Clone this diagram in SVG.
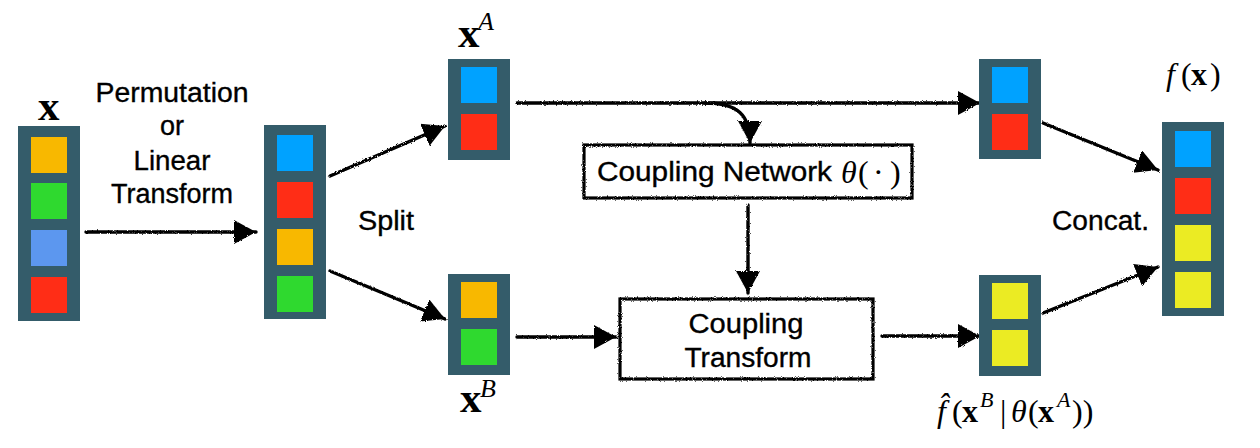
<svg xmlns="http://www.w3.org/2000/svg" width="1260" height="448" viewBox="0 0 1260 448">
<style>
.col{fill:#345c6a}
.b{fill:#00a2ff}.r{fill:#ff2d16}.o{fill:#f8b800}.g{fill:#2fd92f}.lb{fill:#5c97ef}.y{fill:#ebeb23}
.lbl{font-family:"Liberation Sans",Arial,sans-serif;font-size:27px;fill:#000;stroke:#000;stroke-width:0.35}
.math{font-family:"Liberation Serif","Times New Roman",serif;fill:#000}
.bx{font-weight:bold}
.it{font-style:italic}
.con{fill:none;stroke:#000;stroke-width:3.4;stroke-linecap:round}
.box{fill:#fff;stroke:#000;stroke-width:3.2}
</style>
<defs>
<marker id="ah" markerUnits="userSpaceOnUse" markerWidth="22" markerHeight="24" viewBox="0 0 22 24" refX="22" refY="12" orient="auto">
<path d="M0,0 L22,12 L0,24 z" fill="#000"/>
</marker>
<filter id="rough" x="-5%" y="-20%" width="110%" height="140%">
<feTurbulence type="fractalNoise" baseFrequency="1.2" numOctaves="2" seed="3"/>
<feDisplacementMap in="SourceGraphic" scale="2.8"/>
</filter>
</defs>

<g id="connectors" filter="url(#rough)">
<line class="con" x1="86" y1="232" x2="256" y2="232" marker-end="url(#ah)"/>
<line class="con" x1="330" y1="176" x2="445" y2="126" marker-end="url(#ah)"/>
<line class="con" x1="330" y1="271" x2="445" y2="319" marker-end="url(#ah)"/>
<line class="con" x1="517" y1="103" x2="980" y2="103" marker-end="url(#ah)"/>
<path class="con" d="M705,103 C738,103 750,115 750,143" marker-end="url(#ah)"/>
<line class="con" x1="748" y1="205" x2="748" y2="293" marker-end="url(#ah)"/>
<line class="con" x1="517" y1="337" x2="616" y2="337" marker-end="url(#ah)"/>
<line class="con" x1="882" y1="336" x2="980" y2="336" marker-end="url(#ah)"/>
<line class="con" x1="1043" y1="123" x2="1158" y2="170" marker-end="url(#ah)"/>
<line class="con" x1="1043" y1="313" x2="1158" y2="267" marker-end="url(#ah)"/>
</g>

<g id="x-input">
<rect class="col" x="18" y="126" width="62" height="195"/>
<rect class="o" x="31" y="137" width="36" height="36"/>
<rect class="g" x="31" y="183" width="36" height="36"/>
<rect class="lb" x="31" y="230" width="36" height="36"/>
<rect class="r" x="31" y="277" width="36" height="36"/>
<text class="math bx" x="38" y="120" font-size="43">x</text>
</g>

<g id="permutation-label">
<text class="lbl" text-anchor="middle" x="172" y="102" textLength="153" lengthAdjust="spacingAndGlyphs">Permutation</text>
<text class="lbl" text-anchor="middle" x="172" y="135">or</text>
<text class="lbl" text-anchor="middle" x="172" y="170" textLength="77" lengthAdjust="spacingAndGlyphs">Linear</text>
<text class="lbl" text-anchor="middle" x="172" y="203" textLength="122" lengthAdjust="spacingAndGlyphs">Transform</text>
</g>

<g id="permuted">
<rect class="col" x="264" y="125" width="62" height="194"/>
<rect class="b" x="277" y="135" width="36" height="36"/>
<rect class="r" x="277" y="182" width="36" height="36"/>
<rect class="o" x="277" y="229" width="36" height="36"/>
<rect class="g" x="277" y="276" width="36" height="36"/>
</g>

<g id="split-label">
<text class="lbl" x="358" y="230" textLength="56" lengthAdjust="spacingAndGlyphs">Split</text>
</g>

<g id="xA">
<rect class="col" x="448" y="59" width="62" height="101"/>
<rect class="b" x="461" y="67" width="36" height="36"/>
<rect class="r" x="461" y="114" width="36" height="36"/>
<text class="math" y="47"><tspan class="bx" x="458" font-size="43">x</tspan><tspan class="it" x="478" y="29.5" font-size="26">A</tspan></text>
</g>

<g id="xB">
<rect class="col" x="448" y="274" width="62" height="101"/>
<rect class="o" x="461" y="282" width="36" height="36"/>
<rect class="g" x="461" y="329" width="36" height="36"/>
<text class="math" y="412"><tspan class="bx" x="460" font-size="43">x</tspan><tspan class="it" x="480" y="397" font-size="26">B</tspan></text>
</g>

<g id="coupling-network">
<rect class="box" x="584" y="145" width="328" height="53" filter="url(#rough)"/>
<text class="lbl" x="597" y="181" font-size="28" textLength="235" lengthAdjust="spacingAndGlyphs">Coupling Network</text>
<text class="math" y="183" font-size="32"><tspan class="it" x="841">θ</tspan><tspan x="858">(</tspan><tspan x="873">·</tspan><tspan x="890">)</tspan></text>
</g>

<g id="coupling-transform">
<rect class="box" x="620" y="299" width="253" height="80" filter="url(#rough)"/>
<text class="lbl" text-anchor="middle" x="746" y="333" font-size="28" textLength="115" lengthAdjust="spacingAndGlyphs">Coupling</text>
<text class="lbl" text-anchor="middle" x="748" y="367" font-size="28" textLength="127" lengthAdjust="spacingAndGlyphs">Transform</text>
</g>

<g id="yA">
<rect class="col" x="979" y="59" width="62" height="100"/>
<rect class="b" x="992" y="67" width="36" height="36"/>
<rect class="r" x="992" y="114" width="36" height="36"/>
</g>

<g id="yB">
<rect class="col" x="979" y="275" width="62" height="101"/>
<rect class="y" x="992" y="283" width="36" height="36"/>
<rect class="y" x="992" y="330" width="36" height="36"/>
<text class="math" y="422" font-size="32"><tspan class="it" x="937">f̂</tspan><tspan x="952">(</tspan><tspan class="bx" x="962">x</tspan><tspan class="it" x="980" y="407" font-size="22">B</tspan><tspan x="1000" y="422">|</tspan><tspan class="it" x="1011">θ</tspan><tspan x="1028">(</tspan><tspan class="bx" x="1038">x</tspan><tspan class="it" x="1057" y="407" font-size="22">A</tspan><tspan x="1072" y="422">))</tspan></text>
</g>

<g id="concat-label">
<text class="lbl" x="1052" y="230" textLength="97" lengthAdjust="spacingAndGlyphs">Concat.</text>
</g>

<g id="output">
<rect class="col" x="1162" y="122" width="62" height="194"/>
<rect class="b" x="1175" y="131" width="36" height="36"/>
<rect class="r" x="1175" y="178" width="36" height="36"/>
<rect class="y" x="1175" y="225" width="36" height="36"/>
<rect class="y" x="1175" y="272" width="36" height="36"/>
<text class="math" y="85" font-size="32"><tspan class="it" x="1166">f</tspan><tspan x="1181">(</tspan><tspan class="bx" x="1191">x</tspan><tspan x="1210">)</tspan></text>
</g>
</svg>
